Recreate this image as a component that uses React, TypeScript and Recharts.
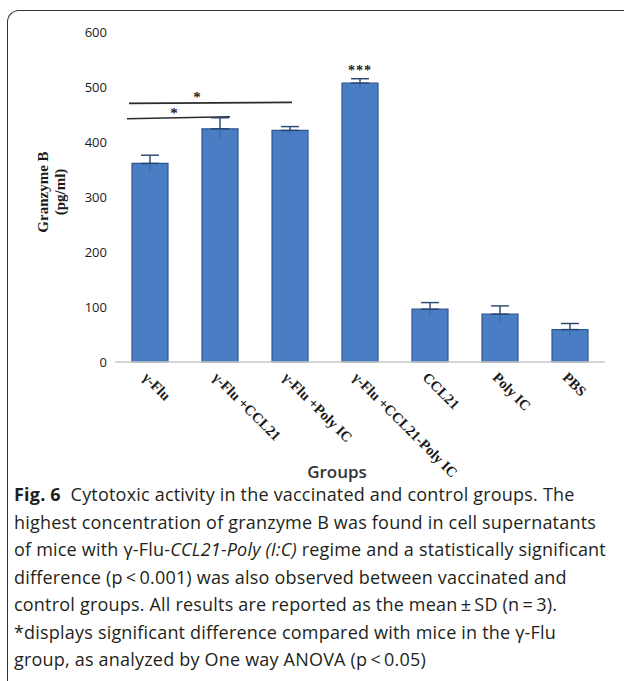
import { BarChart, Bar, XAxis, YAxis, ErrorBar, ReferenceLine, LabelList, Label } from "recharts";

// ================= DATA =================
const groups = [
  "γ-Flu",
  "γ-Flu +CCL21",
  "γ-Flu +Poly IC",
  "γ-Flu +CCL21-Poly IC",
  "CCL21",
  "Poly IC",
  "PBS",
];
const granzymeMeans = [361, 424, 421, 507, 96, 87, 59];
const granzymeSD = [15, 20, 7, 8, 12, 15, 11];
const significance = ["", "", "", "***", "", "", ""];
const yTicks = [0, 100, 200, 300, 400, 500, 600];

// upper whisker is drawn with a cap, lower one faint inside the bar
const data = groups.map((name, i) => ({
  name,
  value: granzymeMeans[i],
  sdUp: [0, granzymeSD[i]],
  sdDown: [granzymeSD[i], 0],
  sig: significance[i],
}));

const serif = "'Liberation Serif', 'DejaVu Serif', serif";
const sans = "'Open Sans', 'Noto Sans', sans-serif";

// ================= TICKS =================
// eslint-disable-next-line
function GroupTick({ x, y, payload }: any) {
  return (
    <g transform={`translate(${x},${y})`}>
      <text
        x={-1}
        y={1}
        transform="rotate(45, -1, 1)"
        textAnchor="start"
        dominantBaseline="hanging"
        fontFamily={serif}
        fontWeight={700}
        fontSize={14.5}
        fill="#1a1a1a"
      >
        {payload.value}
      </text>
    </g>
  );
}

// eslint-disable-next-line
function YTitle({ viewBox }: any) {
  const cx = 43;
  const cy = viewBox.y + 160;
  return (
    <g transform={`rotate(-90, ${cx}, ${cy})`} fontFamily={serif} fontWeight={700} fontSize={15} fill="#1a1a1a">
      <text x={cx} y={cy} textAnchor="middle" dominantBaseline="central">
        Granzyme B
      </text>
      <text x={cx} y={cy + 17} textAnchor="middle" dominantBaseline="central">
        (pg/ml)
      </text>
    </g>
  );
}

// eslint-disable-next-line
function SigLine(props: any) {
  const { x1, y1, x2, y2, dxStart, dxEnd, tilt } = props;
  return (
    <line
      x1={x1 + dxStart}
      y1={y1 + tilt}
      x2={x2 + dxEnd}
      y2={y2}
      stroke="#2b2b2b"
      strokeWidth={1.6}
    />
  );
}

const captionLines = [
  [
    <b key="f" style={{ fontWeight: 700 }}>Fig. 6</b>,
    "\u00a0 Cytotoxic activity in the vaccinated and control groups. The",
  ],
  ["highest concentration of granzyme B was found in cell supernatants"],
  [
    "of mice with γ-Flu-",
    <i key="c">CCL21-Poly (I:C)</i>,
    " regime and a statistically significant",
  ],
  ["difference (p\u2009<\u20090.001) was also observed between vaccinated and"],
  ["control groups. All results are reported as the mean\u2009±\u2009SD (n\u2009=\u20093)."],
  ["*displays significant difference compared with mice in the γ-Flu"],
  ["group, as analyzed by One way ANOVA (p\u2009<\u20090.05)"],
];

export default function App() {
  return (
    <div style={{ position: "absolute", left: 0, top: 0, width: 624, height: 681, overflow: "hidden", background: "#fff" }}>
      {/* frame */}
      <div
        style={{
          position: "absolute",
          left: 7,
          top: 10,
          width: 660,
          height: 700,
          borderLeft: "1.5px solid #333",
          borderTop: "1.5px solid #333",
          borderTopLeftRadius: 12,
        }}
      />
      <div style={{ position: "absolute", left: 0, top: 0 }}>
        <BarChart
          width={624}
          height={482}
          data={data}
          margin={{ top: 32, right: 19, left: 0, bottom: 0 }}
          barCategoryGap={17}
        >
          <XAxis
            dataKey="name"
            height={120}
            interval={0}
            tickLine={false}
            axisLine={{ stroke: "#c8c8c8", strokeWidth: 1.5 }}
            tick={<GroupTick />}
          >
            <Label
              value="Groups"
              position="insideBottom"
              offset={4}
              dx={-23}
              fontFamily={sans}
              fontWeight={600}
              fontSize={17}
              fill="#333"
            />
          </XAxis>
          <YAxis
            width={115}
            domain={[0, 600]}
            ticks={yTicks}
            axisLine={false}
            tickLine={false}
            tickSize={6}
            tick={{ fontFamily: sans, fontSize: 13, fill: "#1a1a1a" }}
            label={<YTitle />}
          />
          <ReferenceLine
            segment={[
              { x: groups[0], y: 472 },
              { x: groups[2], y: 472 },
            ]}
            shape={(p: any) => <SigLine {...p} dxStart={-21} dxEnd={2} tilt={1} />}
            label={{ value: "*", position: "center", dx: -23, dy: -6, fontSize: 15, fontWeight: 700, fill: "#222" }}
          />
          <ReferenceLine
            segment={[
              { x: groups[0], y: 446 },
              { x: groups[1], y: 446 },
            ]}
            shape={(p: any) => <SigLine {...p} dxStart={-23} dxEnd={10} tilt={2} />}
            label={{ value: "*", position: "center", dx: -11, dy: -4, fontSize: 15, fontWeight: 700, fill: "#222" }}
          />
          <Bar
            dataKey="value"
            fill="#4a7ec4"
            stroke="#2f5690"
            strokeWidth={1.2}
            isAnimationActive={false}
          >
            <ErrorBar dataKey="sdUp" width={9} stroke="#27446e" strokeWidth={1.4} direction="y" />
            <ErrorBar dataKey="sdDown" width={0} stroke="#3a6399" strokeWidth={1} direction="y" />
            <LabelList
              dataKey="sig"
              position="top"
              offset={8}
              fontSize={14}
              fontWeight={700}
              letterSpacing={1}
              fill="#222"
            />
          </Bar>
        </BarChart>
      </div>
      {/* caption */}
      <div
        style={{
          position: "absolute",
          left: 14,
          top: 481,
          fontFamily: sans,
          fontSize: 18,
          color: "#231f20",
          lineHeight: "27.5px",
          letterSpacing: 0.2,
          whiteSpace: "nowrap",
        }}
      >
        {captionLines.map((line, i) => (
          <div key={i}>{line}</div>
        ))}
      </div>
    </div>
  );
}
